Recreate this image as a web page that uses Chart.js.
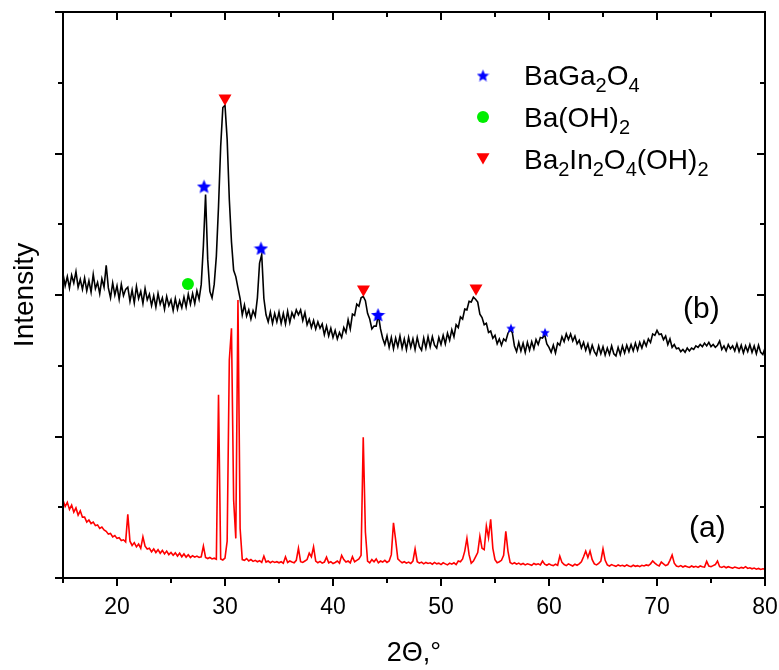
<!DOCTYPE html>
<html>
<head>
<meta charset="utf-8">
<script src="https://cdn.jsdelivr.net/npm/chart.js@4.4.1/dist/chart.umd.min.js"></script>
<style>
  html, body { margin: 0; padding: 0; background: #fff; }
</style>
</head>
<body>
<canvas id="xrdChart" width="779" height="670"></canvas>
<script>
// 2-theta sampling of both patterns (degrees)
const angleStart = 15;
const angleStep = 0.2;

// sample (b), black trace, one row = 2 degrees
const sampleB = [
  4300, 4130, 4260, 4100, 4280, 4170, 4330, 4110, 4220, 4080,
  4240, 4060, 4200, 4040, 4290, 4090, 4180, 4020, 4230, 4110,
  4420, 4100, 3960, 4170, 4000, 4130, 3940, 4150, 3990, 4080,
  4110, 3910, 4070, 3890, 4120, 3950, 4050, 3880, 4090, 3930,
  4010, 3850, 3990, 3830, 4020, 3870, 3960, 3800, 3980, 3850,
  3930, 3780, 3950, 3800, 3920, 3820, 3970, 3830, 4010, 3870,
  4020, 3880, 4060, 3940, 4150, 4700, 5420, 4500, 4050, 3960,
  4150, 4550, 5250, 6100, 6650, 6680, 6200, 5350, 4750, 4350,
  4260, 4100, 3950, 3720, 3860, 3700, 3790, 3660, 3780, 3700,
  3960, 4450, 4570, 3950, 3720, 3620, 3760, 3600, 3740, 3620,
  3760, 3600, 3740, 3590, 3770, 3610, 3750, 3680, 3790, 3720,
  3790, 3640, 3750, 3580, 3660, 3540, 3640, 3520, 3620, 3530,
  3590, 3440, 3560, 3420, 3530, 3400, 3500, 3380, 3470, 3400,
  3540, 3470, 3650, 3520, 3730, 3710, 3870, 3840, 3960, 3980,
  3920, 3740, 3660, 3520, 3560, 3560, 3720, 3520, 3390, 3300,
  3420, 3260, 3400, 3240, 3390, 3270, 3420, 3250, 3380, 3230,
  3400, 3260, 3380, 3230, 3400, 3270, 3220, 3390, 3250, 3410,
  3270, 3410, 3290, 3250, 3400, 3300, 3430, 3310, 3460, 3360,
  3510, 3410, 3580, 3540, 3690, 3660, 3800, 3790, 3910, 3900,
  3970, 3940, 3900, 3730, 3680, 3580, 3600, 3470, 3490, 3390,
  3430, 3310, 3380, 3290, 3380, 3350, 3460, 3510, 3470, 3280,
  3200, 3330, 3210, 3320, 3190, 3330, 3220, 3340, 3240, 3370,
  3300, 3400, 3390, 3440, 3310, 3260, 3190, 3290, 3180, 3320,
  3290, 3410, 3340, 3450, 3370, 3450, 3350, 3420, 3310, 3360,
  3250, 3330, 3220, 3310, 3180, 3290, 3200, 3150, 3280, 3170,
  3270, 3150, 3250, 3160, 3280, 3170, 3140, 3260, 3160, 3280,
  3180, 3290, 3200, 3300, 3210, 3320, 3220, 3330, 3250, 3350,
  3280, 3380, 3330, 3450, 3430, 3500, 3440, 3450, 3370, 3420,
  3300, 3380, 3260, 3300, 3240, 3250, 3200, 3230, 3190, 3250,
  3210, 3250, 3230, 3280, 3260, 3300, 3270, 3320, 3280, 3330,
  3270, 3300, 3260, 3290, 3350, 3230, 3280, 3210, 3300, 3240,
  3280, 3210, 3310, 3200, 3290, 3180, 3280, 3200, 3300, 3190,
  3280, 3170, 3290, 3190, 3160, 3250
];

// sample (a), red trace
const sampleA = [
  1100, 1010, 1070, 970, 1030, 930, 990, 890, 950, 860,
  860, 790, 820, 770, 790, 740, 750, 700, 720, 680,
  660, 620, 630, 580, 600, 560, 570, 530, 540, 510,
  900, 520, 460, 500, 440, 480, 420, 580, 450, 410,
  420, 370, 410, 360, 400, 350, 390, 340, 380, 330,
  360, 320, 355, 310, 350, 300, 340, 295, 330, 290,
  315, 295, 310, 290, 300, 450, 290, 275, 290, 270,
  280, 265, 2590, 270, 255, 280, 520, 3080, 3530, 1100,
  560, 3930, 700, 260, 250, 275, 240, 260, 235, 250,
  230, 245, 220, 310, 225, 240, 215, 235, 220, 230,
  215, 230, 210, 300, 220, 240, 225, 215, 250, 420,
  230, 220, 240, 260, 350, 300, 440, 240, 215, 235,
  210, 225, 295, 215, 230, 205, 220, 240, 210, 320,
  260, 225, 240, 215, 300, 230, 250, 270, 320, 1990,
  650, 240, 215, 260, 230, 270, 215, 240, 225, 250,
  220, 240, 330, 780, 540, 270, 240, 215, 230, 210,
  225, 205, 240, 410, 230, 210, 225, 200, 220, 205,
  215, 195, 220, 200, 210, 190, 215, 200, 185, 210,
  195, 215, 190, 240, 230, 270, 380, 560, 330, 210,
  240, 300, 360, 590, 420, 400, 735, 570, 830, 420,
  260, 215, 230, 250, 320, 660, 380, 220, 200, 215,
  195, 210, 190, 205, 185, 200, 190, 180, 205, 190,
  200, 185, 240, 195, 180, 200, 185, 175, 195, 180,
  310, 220, 190, 175, 200, 185, 170, 195, 180, 200,
  230, 300, 380, 290, 380, 260, 200, 185, 205, 240,
  410, 250, 185, 170, 190, 175, 165, 185, 170, 180,
  165, 185, 170, 160, 180, 165, 175, 160, 180, 170,
  185, 175, 200, 240, 210, 185, 170, 225, 200, 175,
  190, 250, 325, 210, 170, 160, 175, 155, 170, 160,
  150, 170, 155, 165, 150, 170, 160, 155, 235, 170,
  160, 175, 190, 240, 160, 150, 165, 145, 160, 150,
  140, 155, 145, 135, 150, 140, 160, 135, 145, 130,
  140, 125, 135, 120, 130, 125
];

// phase markers on trace (b)
const baGaAngles = [28.06, 33.33, 44.17, 56.48, 59.63];
const baGaHeights = [5540, 4665, 3725, 3540, 3480];
const baOHAngles = [26.57];
const baOHHeights = [4155];
const baInAngles = [30.0, 42.82, 53.24];
const baInHeights = [6780, 4080, 4095];

const angles = sampleB.map((_, i) => +(angleStart + i * angleStep).toFixed(1));
const toPoints = (xs, ys) => xs.map((x, i) => ({ x: x, y: ys[i] }));

const FONT = '"Liberation Sans", Arial, sans-serif';
const BLUE = '#0000ff';
const GREEN = '#00ee00';
const RED = '#ff0000';

function starImage(d, color) {
  const c = document.createElement('canvas');
  c.width = d;
  c.height = d;
  const g = c.getContext('2d');
  const R = d / 2, r = R * 0.45;
  g.beginPath();
  for (let i = 0; i < 10; i++) {
    const rad = i % 2 ? r : R;
    const a = -Math.PI / 2 + i * Math.PI / 5;
    g.lineTo(R + rad * Math.cos(a), R + 1 + rad * Math.sin(a));
  }
  g.closePath();
  g.fillStyle = color;
  g.fill();
  return c;
}

const bigStar = starImage(15, BLUE);
const smallStar = starImage(10, BLUE);
const legendStar = starImage(13, BLUE);

const legendNames = [
  [['BaGa'], ['2', 1], ['O'], ['4', 1]],
  [['Ba(OH)'], ['2', 1]],
  [['Ba'], ['2', 1], ['In'], ['2', 1], ['O'], ['4', 1], ['(OH)'], ['2', 1]]
];

function drawFormula(ctx, parts, x, y, size) {
  parts.forEach(p => {
    const sub = p[1];
    ctx.font = (sub ? Math.round(size * 0.7) : size) + 'px ' + FONT;
    ctx.fillText(p[0], x, sub ? y + 7 : y);
    x += ctx.measureText(p[0]).width;
  });
}

function downTriangle(ctx, cx, cy, r) {
  ctx.beginPath();
  ctx.moveTo(cx, cy + r);
  ctx.lineTo(cx - r * 0.866, cy - r / 2);
  ctx.lineTo(cx + r * 0.866, cy - r / 2);
  ctx.closePath();
  ctx.fill();
}

// frame, Origin-style ticks, legend and sample labels
const decorations = {
  id: 'decorations',
  afterDraw(chart) {
    const { ctx, chartArea: a, scales: { x, y } } = chart;
    ctx.save();
    ctx.strokeStyle = '#000';
    ctx.lineWidth = 2;
    ctx.strokeRect(a.left, a.top, a.right - a.left, a.bottom - a.top);
    ctx.beginPath();
    x.ticks.forEach(t => {
      const px = Math.round(x.getPixelForValue(t.value));
      const len = t.value % 10 === 0 ? 8 : 5;
      ctx.moveTo(px, a.bottom);
      ctx.lineTo(px, a.bottom + len);
      ctx.moveTo(px, a.top);
      ctx.lineTo(px, a.top + len);
    });
    y.ticks.forEach(t => {
      const py = Math.round(y.getPixelForValue(t.value));
      const len = t.value % 2000 === 0 ? 8 : 5;
      ctx.moveTo(a.left, py);
      ctx.lineTo(a.left - len, py);
      ctx.moveTo(a.right, py);
      ctx.lineTo(a.right - len, py);
    });
    ctx.stroke();

    // legend
    const mx = a.left + 420, tx = a.left + 461;
    const rows = [a.top + 63, a.top + 105, a.top + 147];
    ctx.drawImage(legendStar, mx - 6.5, rows[0] - 6.5);
    ctx.fillStyle = GREEN;
    ctx.beginPath();
    ctx.arc(mx, rows[1], 6, 0, Math.PI * 2);
    ctx.fill();
    ctx.fillStyle = RED;
    downTriangle(ctx, mx, rows[2] - 2, 7.5);
    ctx.fillStyle = '#000';
    ctx.textBaseline = 'alphabetic';
    ctx.textAlign = 'left';
    legendNames.forEach((parts, i) => drawFormula(ctx, parts, tx, rows[i] + 10, 28));

    ctx.font = '30px ' + FONT;
    ctx.fillText('(b)', a.left + 620, a.top + 306);
    ctx.fillText('(a)', a.left + 626, a.top + 525);
    ctx.restore();
  }
};

new Chart(document.getElementById('xrdChart'), {
  type: 'line',
  data: {
    datasets: [
      {
        label: 'BaGa2O4',
        data: toPoints(baGaAngles, baGaHeights),
        showLine: false,
        pointStyle: [bigStar, bigStar, bigStar, smallStar, smallStar],
        pointRadius: 7,
        order: 0
      },
      {
        label: 'Ba(OH)2',
        data: toPoints(baOHAngles, baOHHeights),
        showLine: false,
        pointStyle: 'circle',
        pointRadius: 6,
        pointBackgroundColor: GREEN,
        pointBorderWidth: 0,
        order: 0
      },
      {
        label: 'Ba2In2O4(OH)2',
        data: toPoints(baInAngles, baInHeights),
        showLine: false,
        pointStyle: 'triangle',
        rotation: 180,
        pointRadius: 7.5,
        pointBackgroundColor: RED,
        pointBorderWidth: 0,
        order: 0
      },
      {
        label: '(b)',
        data: toPoints(angles, sampleB),
        borderColor: '#000',
        borderWidth: 1.6,
        pointRadius: 0,
        tension: 0,
        order: 1
      },
      {
        label: '(a)',
        data: toPoints(angles, sampleA),
        borderColor: RED,
        borderWidth: 1.6,
        pointRadius: 0,
        tension: 0,
        order: 2
      }
    ]
  },
  options: {
    responsive: false,
    devicePixelRatio: 1,
    animation: false,
    layout: { padding: { left: 8, right: 14, top: 12, bottom: 0 } },
    plugins: { legend: { display: false }, tooltip: { enabled: false } },
    scales: {
      x: {
        type: 'linear',
        min: 15,
        max: 80,
        grid: { display: false, drawTicks: false },
        border: { display: false },
        ticks: {
          stepSize: 5,
          autoSkip: false,
          maxRotation: 0,
          padding: 16,
          color: '#000',
          font: { family: FONT, size: 23 },
          callback: v => (v % 10 === 0 ? v : '')
        },
        title: {
          display: true,
          text: '2Θ,°',
          color: '#000',
          font: { family: FONT, size: 27 },
          padding: 0
        },
        afterFit: s => {
          s.height = 92;
          s.paddingLeft = 0;
          s.paddingRight = 0;
        }
      },
      y: {
        type: 'linear',
        min: 0,
        max: 8000,
        grid: { display: false, drawTicks: false },
        border: { display: false },
        ticks: { display: false, stepSize: 1000 },
        title: {
          display: true,
          text: 'Intensity',
          color: '#000',
          font: { family: FONT, size: 28 },
          padding: 0
        },
        afterFit: s => { s.width = 55; }
      }
    }
  },
  plugins: [decorations]
});
</script>
</body>
</html>
